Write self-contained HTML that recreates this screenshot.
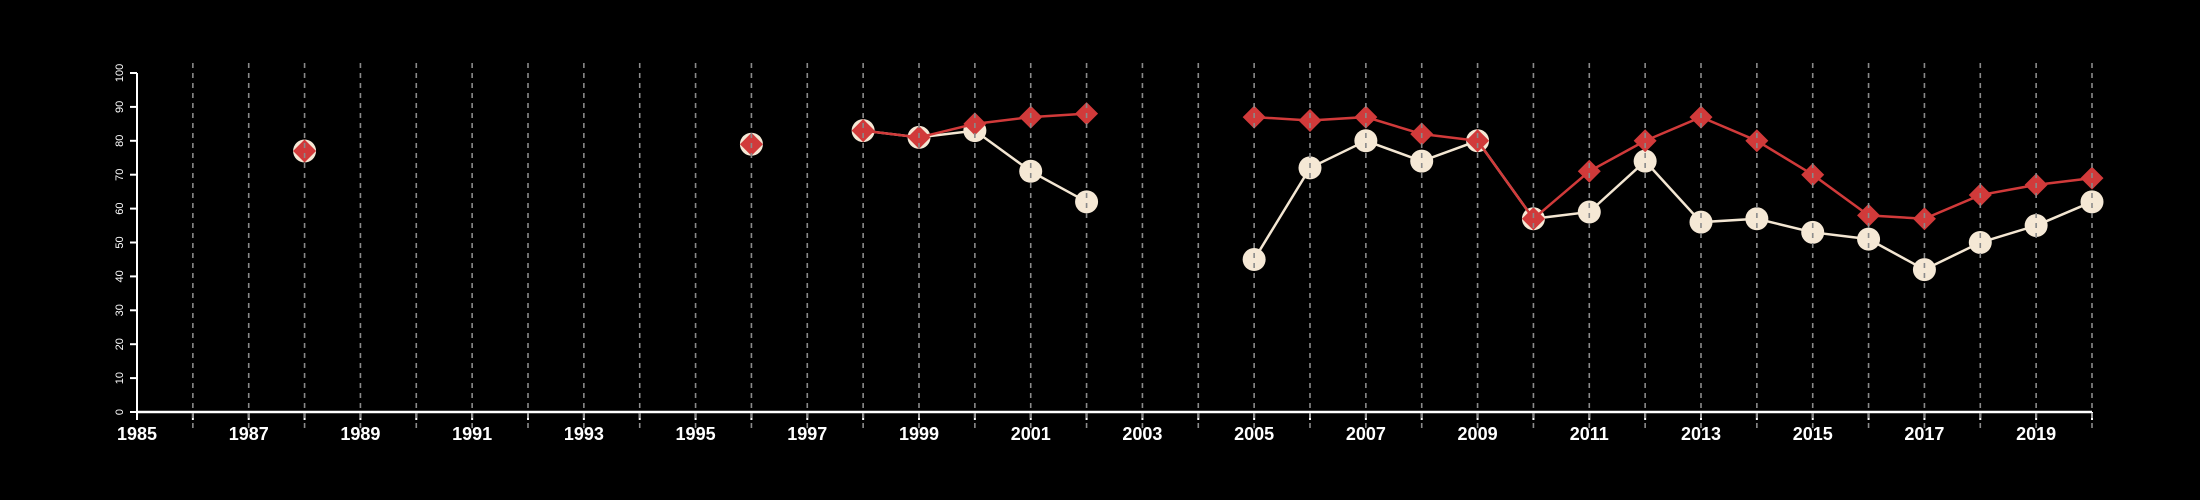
<!DOCTYPE html>
<html><head><meta charset="utf-8"><style>
html,body{margin:0;padding:0;background:#000;}
svg{display:block;}
text{font-family:"Liberation Sans",Arial,sans-serif;fill:#fff;}
</style></head>
<body>
<svg id="chart" width="2200" height="500" viewBox="0 0 2200 500" xmlns="http://www.w3.org/2000/svg">
<rect width="2200" height="500" fill="#000"/>
</svg>
<script>
const years = [1988,1989,1990,1991,1992,1993,1994,1995,1996,1997,1998,1999,2000,2001,2002,2003,2004,2005,2006,2007,2008,2009,2010,2011,2012,2013,2014,2015,2016,2017,2018,2019,2020];
const whiteSeries = [77,null,null,null,null,null,null,null,79,null,83,81,83,71,62,null,null,45,72,80,74,80,57,59,74,56,57,53,51,42,50,55,62];
const redSeries = [77,null,null,null,null,null,null,null,79,null,83,81,85,87,88,null,null,87,86,87,82,80,57,71,80,87,80,70,58,57,64,67,69];
const yTicks = [0,10,20,30,40,50,60,70,80,90,100];
const xLabelYears = [1985,1987,1989,1991,1993,1995,1997,1999,2001,2003,2005,2007,2009,2011,2013,2015,2017,2019];

const NS = 'http://www.w3.org/2000/svg';
const svg = document.getElementById('chart');
const X0 = 137, X1 = 2092, Y0 = 412, Y1 = 73;
const xMin = 1985, xMax = 2020;
const x = v => X0 + (v - xMin) / (xMax - xMin) * (X1 - X0);
const y = v => Y0 - v / 100 * (Y0 - Y1);
function mk(tag, attrs, parent) {
  const el = document.createElementNS(NS, tag);
  for (const k in attrs) el.setAttribute(k, attrs[k]);
  (parent || svg).appendChild(el);
  return el;
}

// y axis
const yAxis = mk('g', {});


mk('line', {x1: X0, x2: X0, y1: y(0), y2: y(100), stroke: '#fff', 'stroke-width': 2}, yAxis);
yTicks.forEach(t => {
  mk('line', {x1: X0 - 7, x2: X0, y1: y(t), y2: y(t), stroke: '#fff', 'stroke-width': 2}, yAxis);
  const tx = mk('text', {x: 0, y: 0, 'font-size': 11, 'text-anchor': 'middle', transform: `translate(${X0 - 17},${y(t)}) rotate(-90)`, 'dominant-baseline': 'central'}, yAxis);
  tx.textContent = t;
  
  
});

// x axis
const xAxis = mk('g', {});


mk('line', {x1: X0, x2: X1, y1: Y0, y2: Y0, stroke: '#fff', 'stroke-width': 2.5}, xAxis);
for (let yr = xMin; yr <= xMax; yr++) {
  mk('line', {x1: x(yr), x2: x(yr), y1: Y0, y2: Y0 + 8, stroke: '#fff', 'stroke-width': 2}, xAxis);
}
xLabelYears.forEach(yr => {
  const tx = mk('text', {x: x(yr), y: Y0 + 28, 'font-size': 18, 'font-weight': 'bold', 'text-anchor': 'middle'}, xAxis);
  tx.textContent = yr;
  
  
});

function drawSeries(vals, color, name) {
  const g = mk('g', {});
  
  
  let seg = [];
  const segs = [];
  vals.forEach((v, i) => {
    if (v === null) { if (seg.length) segs.push(seg); seg = []; }
    else seg.push([x(years[i]), y(v)]);
  });
  if (seg.length) segs.push(seg);
  segs.forEach(s => {
    if (s.length > 1) {
      const p = mk('polyline', {points: s.map(q => q.join(',')).join(' '), fill: 'none', stroke: color, 'stroke-width': 2.5}, g);
      
      
    }
  });
  return g;
}
const gw = drawSeries(whiteSeries, '#f3e6d2', 'white');
whiteSeries.forEach((v, i) => {
  if (v === null) return;
  const c = mk('circle', {cx: x(years[i]), cy: y(v), r: 11.5, fill: '#f5e8d5'}, gw);
  
  
});
const gr = drawSeries(redSeries, '#d13a3a', 'red');
redSeries.forEach((v, i) => {
  if (v === null) return;
  const cx = x(years[i]), cy = y(v), r = 11.5;
  const d = mk('polygon', {points: `${cx},${cy - r} ${cx + r},${cy} ${cx},${cy + r} ${cx - r},${cy}`, fill: '#d13a3a'}, gr);
  
  
});

// gridlines on top
const grid = mk('g', {});


for (let yr = xMin + 1; yr <= xMax; yr++) {
  mk('line', {x1: x(yr), x2: x(yr), y1: 63, y2: 428, stroke: '#8a8a8a', 'stroke-width': 1.6, 'stroke-dasharray': '5,5'}, grid);
}
</script>
</body></html>
